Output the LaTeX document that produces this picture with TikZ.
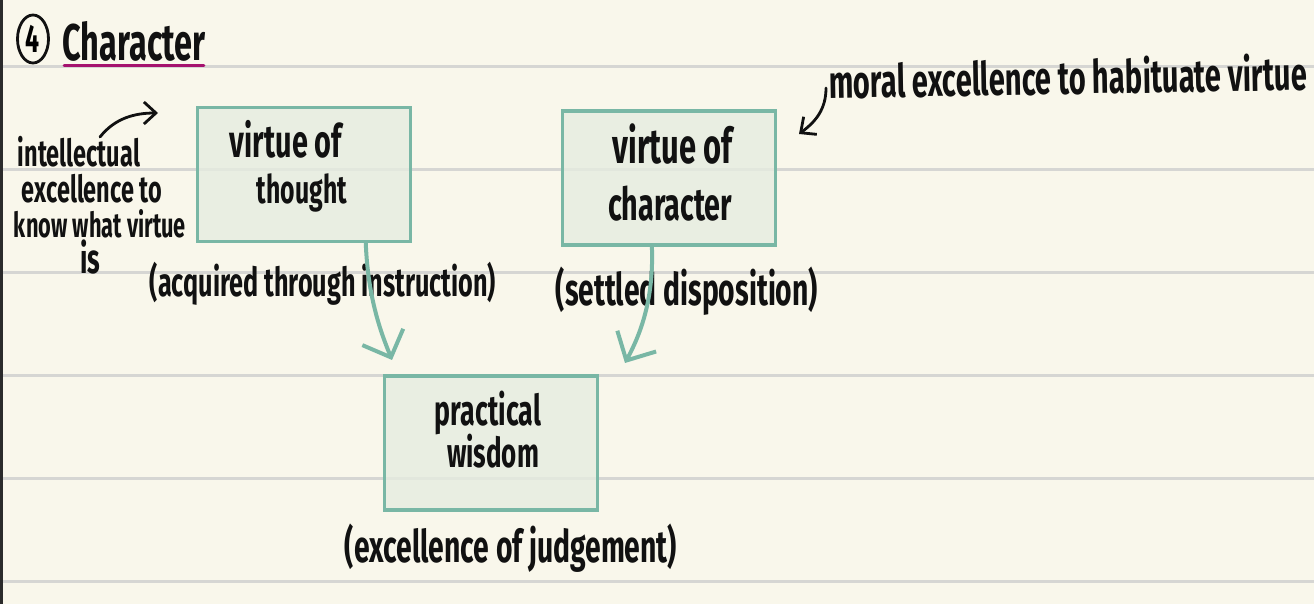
\documentclass[tikz,border=0pt]{standalone}
\usepackage{fontspec}
\usepackage{graphicx}
\newfontfamily\hand[FakeStretch=0.63]{Fira Sans}
\usetikzlibrary{arrows.meta,shapes.geometric}
\definecolor{paper}{HTML}{F9F7EB}
\definecolor{rulegray}{HTML}{D6D6D3}
\definecolor{tealline}{HTML}{79B7A5}
\definecolor{boxfill}{HTML}{E6ECE0}
\definecolor{ink}{HTML}{111111}
\definecolor{magline}{HTML}{A5126E}
\definecolor{edgebar}{HTML}{2B2B2B}
\newcommand{\hw}[2]{\resizebox{#1}{!}{\hand\bfseries #2}}
\tikzset{
  ruleline/.style={rulegray, line width=1.5pt},
  vbox/.style={draw=tealline, line width=1.6pt, fill=boxfill, fill opacity=0.8, text opacity=1,
    minimum width=106.5pt, minimum height=67pt, inner sep=0pt},
  hwtext/.style={inner sep=0pt, text=ink},
  tealarrow/.style={tealline, line width=2pt, line cap=round,
    -{Straight Barb[length=11pt, width=22pt, line width=2pt]}},
  inkarrow/.style={ink, line width=1.4pt, line cap=round,
    -{Straight Barb[length=6pt, width=11pt, line width=1.4pt]}}
}
\begin{document}
\begin{tikzpicture}[x=0.5pt, y=-0.5pt]
\useasboundingbox (0,0) rectangle (1314,604);
\fill[paper] (0,0) rectangle (1314,604);
\fill[edgebar] (0,0) rectangle (3,604);
% ruled lines
\foreach \yy in {67,170,273,376,479,582} {\draw[ruleline] (3,\yy) -- (1314,\yy);}
% title
\node[draw=ink, ellipse, line width=1.4pt, minimum width=15.5pt, minimum height=24pt, inner sep=0pt] (four) at (33,39) {\hw{7pt}{4}};
\node[hwtext] (title) at (134,41) {\hw{71.5pt}{Character}};
\draw[magline, line width=1.5pt, line cap=round] ([xshift=1pt,yshift=-2pt]title.south west) -- ([xshift=-1pt,yshift=-2pt]title.south east);
% boxes
\node[vbox] (b1) at (304,174.5) {};
\node[vbox] (b2) at (669,178) {};
\node[vbox] (b3) at (491,443) {};
% box texts
\node[hwtext] (b1a) at (286,139) {\hw{56pt}{virtue of}};
\node[hwtext] (b1b) at (302,193) {\hw{45pt}{thought}};
\node[hwtext] (b2a) at (673,144) {\hw{60pt}{virtue of}};
\node[hwtext] (b2b) at (670,204) {\hw{62pt}{character}};
\node[hwtext] (b3a) at (488,413) {\hw{53pt}{practical}};
\node[hwtext] (b3b) at (493,451) {\hw{46pt}{wisdom}};
% captions
\node[hwtext] (c1) at (323,284) {\hw{173pt}{(acquired through instruction)}};
\node[hwtext] (c2) at (687,291) {\hw{131pt}{(settled disposition)}};
\node[hwtext] (c3) at (511,548) {\hw{166pt}{(excellence of judgement)}};
% side notes
\node[hwtext] (l1) at (79,152) {\hw{61pt}{intellectual}};
\node[hwtext] (l2) at (92,189) {\hw{70pt}{excellence to}};
\node[hwtext] (l3) at (100,224) {\hw{86pt}{know what virtue}};
\node[hwtext] (l4) at (90,257) {\hw{10pt}{is}};
\node[hwtext, rotate=1] (m1) at (1068,76) {\hw{239pt}{moral excellence to habituate virtue}};
% coordinates for free arrow ends
\coordinate (a1s) at (100,137);
\coordinate (a1e) at (158,113);
\coordinate (a2s) at (826,88);
\coordinate (a2e) at (799,134);
\coordinate (t1e) at (392,360);
\coordinate (t2e) at (625,363);
% arrows
\draw[inkarrow] (a1s) .. controls (115,118) and (135,113) .. (a1e);
\draw[inkarrow] (a2s) .. controls (826,110) and (815,122) .. (a2e);
\draw[tealarrow] (b1.-48) .. controls (368,300) and (382,335) .. (t1e);
\draw[tealarrow] (b2.-104) .. controls (654,300) and (640,335) .. (t2e);
\end{tikzpicture}
\end{document}
